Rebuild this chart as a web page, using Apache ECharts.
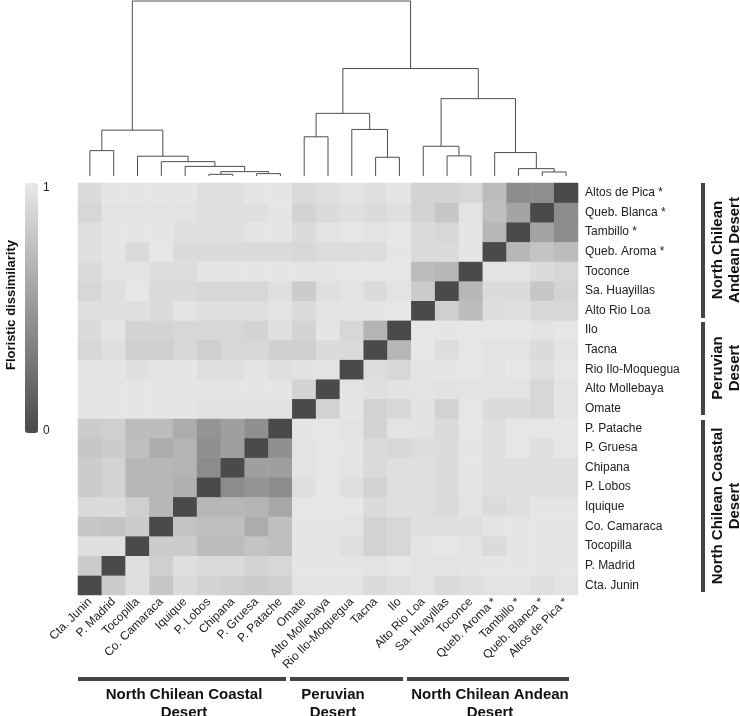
<!DOCTYPE html>
<html><head><meta charset="utf-8">
<script src="https://cdn.jsdelivr.net/npm/echarts@6/dist/echarts.min.js"></script>
<style>html,body{margin:0;padding:0;background:#fff}#c{width:740px;height:716px}</style>
</head><body><div id="c"></div>
<script>
// Sites in dendrogram order (x axis left->right, y axis bottom->top)
const sites = ['Cta. Junin','P. Madrid','Tocopilla','Co. Camaraca','Iquique','P. Lobos','Chipana','P. Gruesa','P. Patache','Omate','Alto Mollebaya','Rio Ilo-Moquegua','Tacna','Ilo','Alto Rio Loa','Sa. Huayillas','Toconce','Queb. Aroma *','Tambillo *','Queb. Blanca *','Altos de Pica *'];

// Floristic dissimilarity, row i = sites[i], column j = sites[j]
const dissimilarity = [
 [0,.82,.94,.79,.92,.87,.84,.82,.84,.97,.98,.98,.92,.94,.97,.92,.94,.97,.97,.94,.97],
 [.82,0,.94,.84,.94,.92,.92,.87,.89,.98,.98,.98,.97,.99,.97,.97,.98,.98,.98,.98,.98],
 [.94,.94,0,.82,.82,.72,.72,.77,.74,.98,.98,.94,.87,.89,.98,.99,.97,.92,.98,.98,.98],
 [.79,.77,.82,0,.77,.74,.74,.62,.74,.98,.98,.97,.87,.89,.94,.94,.94,.98,.98,.98,.98],
 [.92,.92,.84,.69,0,.69,.69,.67,.59,.99,.99,.99,.92,.94,.94,.92,.97,.92,.94,.98,.98],
 [.82,.87,.69,.69,.64,0,.42,.47,.42,.94,.99,.94,.87,.94,.94,.92,.98,.94,.94,.94,.94],
 [.82,.87,.69,.69,.67,.42,0,.54,.54,.97,.99,.97,.91,.94,.94,.92,.98,.94,.94,.94,.94],
 [.79,.82,.74,.62,.67,.44,.54,0,.44,.97,.99,.98,.91,.89,.93,.92,.98,.94,.99,.94,.99],
 [.82,.84,.72,.72,.62,.47,.54,.44,0,.98,.99,.97,.87,.97,.96,.92,.99,.94,.99,.99,.99],
 [.98,.98,.98,.98,.98,.96,.96,.96,.96,0,.87,.98,.87,.89,.96,.87,.99,.92,.92,.89,.97],
 [.98,.98,.98,.98,.98,.98,.98,.98,.98,.87,0,.97,.94,.96,.97,.96,.97,.97,.97,.89,.97],
 [.98,.98,.94,.97,.98,.94,.94,.98,.94,.96,.97,0,.93,.89,.98,.98,.99,.97,.99,.94,.99],
 [.89,.94,.84,.84,.89,.84,.89,.89,.84,.84,.92,.91,0,.69,.99,.93,.99,.97,.97,.92,.97],
 [.92,.98,.87,.87,.89,.89,.89,.87,.94,.87,.98,.89,.67,0,.99,.98,.99,.99,.99,.97,.99],
 [.94,.94,.94,.92,.97,.94,.94,.94,.97,.92,.97,.98,.98,.99,0,.84,.72,.93,.94,.89,.89],
 [.89,.94,.99,.92,.92,.89,.89,.89,.94,.82,.94,.97,.92,.97,.82,0,.69,.92,.92,.79,.87],
 [.92,.97,.97,.93,.93,.98,.98,.98,.98,.98,.98,.99,.99,.99,.72,.69,0,.97,.97,.92,.89],
 [.94,.98,.91,.99,.92,.92,.92,.92,.92,.90,.93,.93,.93,.98,.92,.92,.98,0,.69,.77,.72],
 [.94,.98,.98,.98,.94,.94,.94,.98,.98,.92,.97,.99,.97,.99,.92,.89,.98,.69,0,.57,.42],
 [.89,.97,.97,.97,.97,.94,.94,.94,.98,.87,.91,.95,.92,.94,.87,.79,.97,.74,.57,0,.42],
 [.92,.98,.98,.98,.98,.94,.94,.98,.98,.91,.94,.98,.94,.98,.87,.87,.89,.72,.42,.43,0]
];

// Dendrogram merges (node ids: leaves 0..20, merge k -> node 21+k)
const mergeA = [5,7,19,21,18,4,3,12,2,15,17,0,14,9,32,11,34,33,37,35];
const mergeB = [6,8,20,22,23,24,26,13,27,16,25,1,30,10,29,28,36,31,38,39];
const mergeH = [.0096,.0134,.023,.025,.042,.055,.082,.107,.113,.115,.134,.145,.170,.224,.262,.266,.358,.442,.614,1.0];

// Group annotations
const groupNames = ['North Chilean Coastal\nDesert','Peruvian\nDesert','North Chilean Andean\nDesert'];
const groupNamesRight = ['North Chilean Coastal\nDesert','Peruvian\nDesert','North Chilean\nAndean Desert'];

const FONT = '"Liberation Sans", Arial, sans-serif';

// heatmap data
const heatData = [];
for (let r = 0; r < sites.length; r++)
  for (let c = 0; c < sites.length; c++)
    heatData.push([c, r, dissimilarity[r][c]]);

// dendrogram segments
const nodeX = sites.map((s, i) => i + 0.5);
const nodeH = sites.map(() => 0);
const dendroData = [];
for (let k = 0; k < mergeA.length; k++) {
  const a = mergeA[k], b = mergeB[k];
  dendroData.push([nodeX[a], nodeH[a], nodeX[b], nodeH[b], mergeH[k]]);
  nodeX.push((nodeX[a] + nodeX[b]) / 2);
  nodeH.push(mergeH[k]);
}

const GL = 78, GT = 183, GW = 500, GH = 412;
const chart = echarts.init(document.getElementById('c'), null, {renderer: 'canvas'});

const graphics = [
  // colorbar title
  {type:'text', x:11, y:305, rotation:Math.PI/2, style:{text:'Floristic dissimilarity', font:'bold 13px '+FONT, fill:'#111', textAlign:'center', textVerticalAlign:'middle'}},
  {type:'text', x:43, y:188, style:{text:'1', font:'12px '+FONT, fill:'#222', textAlign:'left', textVerticalAlign:'middle'}},
  {type:'text', x:43, y:431, style:{text:'0', font:'12px '+FONT, fill:'#222', textAlign:'left', textVerticalAlign:'middle'}},
  // bottom bars
  {type:'line', shape:{x1:78, y1:679, x2:286, y2:679}, style:{stroke:'#444', lineWidth:4}},
  {type:'line', shape:{x1:290, y1:679, x2:403, y2:679}, style:{stroke:'#444', lineWidth:4}},
  {type:'line', shape:{x1:407, y1:679, x2:569, y2:679}, style:{stroke:'#444', lineWidth:4}},
  {type:'text', x:184, y:704, style:{text:groupNames[0], font:'bold 15px '+FONT, fill:'#111', textAlign:'center', textVerticalAlign:'middle', lineHeight:18}},
  {type:'text', x:333, y:704, style:{text:groupNames[1], font:'bold 15px '+FONT, fill:'#111', textAlign:'center', textVerticalAlign:'middle', lineHeight:18}},
  {type:'text', x:490, y:704, style:{text:groupNames[2], font:'bold 15px '+FONT, fill:'#111', textAlign:'center', textVerticalAlign:'middle', lineHeight:18}},
  // right bars
  {type:'line', shape:{x1:703, y1:183, x2:703, y2:318}, style:{stroke:'#444', lineWidth:4}},
  {type:'line', shape:{x1:703, y1:322, x2:703, y2:415}, style:{stroke:'#444', lineWidth:4}},
  {type:'line', shape:{x1:703, y1:420, x2:703, y2:592}, style:{stroke:'#444', lineWidth:4}},
  {type:'text', x:726, y:250, rotation:Math.PI/2, style:{text:groupNamesRight[2], font:'bold 15px '+FONT, fill:'#111', textAlign:'center', textVerticalAlign:'middle', lineHeight:17}},
  {type:'text', x:726, y:368, rotation:Math.PI/2, style:{text:groupNamesRight[1], font:'bold 15px '+FONT, fill:'#111', textAlign:'center', textVerticalAlign:'middle', lineHeight:17}},
  {type:'text', x:726, y:506, rotation:Math.PI/2, style:{text:groupNamesRight[0], font:'bold 15px '+FONT, fill:'#111', textAlign:'center', textVerticalAlign:'middle', lineHeight:17}}
];

chart.setOption({
  animation: false,
  backgroundColor: '#fff',
  grid: [
    {left: GL, top: 1, width: GW, height: 175},
    {left: GL, top: GT, width: GW, height: GH}
  ],
  xAxis: [
    {gridIndex: 0, type: 'value', min: 0, max: sites.length, show: false},
    {gridIndex: 1, type: 'category', data: sites, axisLine:{show:false}, axisTick:{show:false}, splitLine:{show:false},
     axisLabel: {rotate: 45, margin: 5, fontSize: 12, color: '#222', fontFamily: FONT, interval: 0}}
  ],
  yAxis: [
    {gridIndex: 0, type: 'value', min: 0, max: 1, show: false},
    {gridIndex: 1, type: 'category', data: sites, position: 'right', axisLine:{show:false}, axisTick:{show:false}, splitLine:{show:false},
     axisLabel: {margin: 7, fontSize: 12, color: '#222', fontFamily: FONT, interval: 0}}
  ],
  visualMap: {
    type: 'continuous', min: 0, max: 1, seriesIndex: 1, calculable: false, hoverLink: false,
    orient: 'vertical', left: 25, top: 183, itemWidth: 13, itemHeight: 250, padding: 0,
    inRange: {color: ['#4a4a4a', '#e8e8e8']}, text: null, showLabel: false
  },
  series: [
    {type: 'custom', xAxisIndex: 0, yAxisIndex: 0, data: dendroData, silent: true,
     renderItem: function (params, api) {
       const p1 = api.coord([api.value(0), api.value(1)]);
       const p2 = api.coord([api.value(0), api.value(4)]);
       const p3 = api.coord([api.value(2), api.value(4)]);
       const p4 = api.coord([api.value(2), api.value(3)]);
       return {type: 'polyline', shape: {points: [p1, p2, p3, p4]}, style: {stroke: '#4d4d4d', lineWidth: 1, fill: null}};
     }},
    {type: 'heatmap', xAxisIndex: 1, yAxisIndex: 1, data: heatData, silent: true, emphasis: {disabled: true}}
  ],
  graphic: graphics
});
</script>
</body></html>
